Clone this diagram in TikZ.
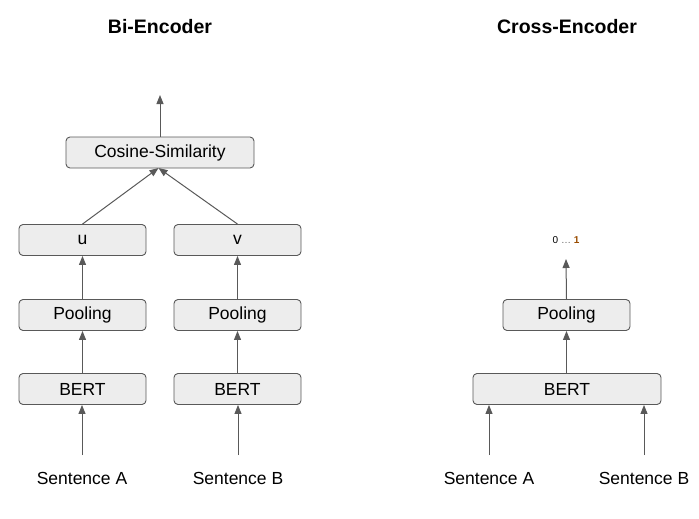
\documentclass[tikz,border=0pt]{standalone}
\usepackage{fontspec}
\setmainfont{Liberation Sans}
\usetikzlibrary{arrows.meta}
\begin{document}
\begin{tikzpicture}[x=1pt,y=-1pt,
 box/.style={draw=black!65,fill=black!7,rounded corners=4pt,line width=0.9pt,inner sep=0pt,font=\fontsize{17.5}{20}\selectfont},
 arr/.style={draw=black!65,line width=1pt,-{Triangle[length=9pt,width=7pt]}},
 lab/.style={font=\fontsize{17.5}{20}\selectfont},
 ttl/.style={font=\bfseries\fontsize{19.5}{22}\selectfont}]
\useasboundingbox (0,0) rectangle (699,519);
\node[ttl] (t1) at (160,27) {Bi-Encoder};
\node[ttl] (t2) at (567,27) {Cross-Encoder};
\node[box,minimum width=188pt,minimum height=31pt] (cos) at (160,152.5) {Cosine-Similarity};
\coordinate (top) at (160,95);
\node[box,minimum width=127pt,minimum height=31pt] (u) at (82.5,240) {u};
\node[box,minimum width=127pt,minimum height=31pt] (v) at (237.5,240) {v};
\node[box,minimum width=127pt,minimum height=31pt] (p1) at (82.5,315) {Pooling};
\node[box,minimum width=127pt,minimum height=31pt] (p2) at (237.5,315) {Pooling};
\node[box,minimum width=127pt,minimum height=31pt] (b1) at (82.5,389) {BERT};
\node[box,minimum width=127pt,minimum height=31pt] (b2) at (237.5,389) {BERT};
\node[lab] (sa) at (82,478) {Sentence A};
\node[lab] (sb) at (238,478) {Sentence B};
\coordinate (sa1) at (82,455); \coordinate (sb1) at (238,455);
\draw[arr] (sa1) -- (b1.south -| sa1);
\draw[arr] (sb1) -- (b2.south -| sb1);
\draw[arr] (b1) -- (p1);
\draw[arr] (b2) -- (p2);
\draw[arr] (p1) -- (u);
\draw[arr] (p2) -- (v);
\coordinate (cb) at (158.5,168);
\draw[arr] (u.north) -- (cb);
\draw[arr] (v.north) -- (cb);
\draw[arr] (cos.north) -- (top);
% cross
\node[box,minimum width=127pt,minimum height=31pt] (cp) at (566.5,315) {Pooling};
\node[box,minimum width=188pt,minimum height=31pt] (cbert) at (567,389) {BERT};
\node[font=\fontsize{10}{12}\selectfont,inner sep=1pt] (out) at (566,240) {0 \textcolor{black!60}{\dots} \textcolor{orange!60!black}{\textbf{1}}};
\node[lab] (ca) at (489,478) {Sentence A};
\node[lab] (cb2) at (644,478) {Sentence B};
\coordinate (ca1) at (489,455); \coordinate (cb1) at (644,455);
\draw[arr] (ca1) -- (cbert.south -| ca1);
\draw[arr] (cb1) -- (cbert.south -| cb1);
\draw[arr] (cbert.north -| cp) -- (cp);
\draw[arr] (cp.north) -- (566,259);
\end{tikzpicture}
\end{document}
